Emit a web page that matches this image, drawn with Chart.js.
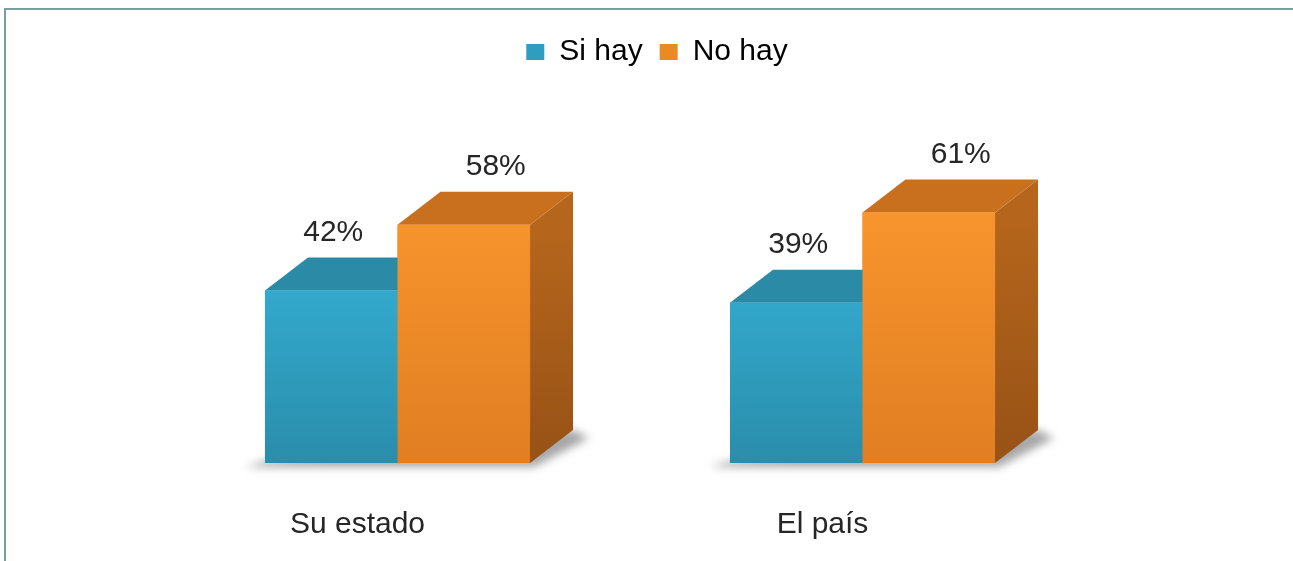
<!DOCTYPE html>
<html lang="es">
<head>
  <meta charset="UTF-8">
  <title>Si hay / No hay</title>
  <script src="https://cdn.jsdelivr.net/npm/chart.js"></script>
  <style>
    body { margin: 0; background: #fff; }
    .container { position: relative; width: 1293px; height: 561px; }
  </style>
</head>
<body>
  <div class="container"><canvas id="chart"></canvas></div>

<script>
  // datos
  const categorias = ['Su estado', 'El país'];
  const siHay = [42, 39];
  const noHay = [58, 61];
  const series = ['Si hay', 'No hay'];

  const fuente = '"Liberation Sans", Arial, sans-serif';
  const profX = 43;   // profundidad 3D
  const profY = -33;

  // colores de cada serie: frente (arriba/abajo), tapa, lado
  const colores = [
    { frente: ['#37b6dc', '#2a8dab'], tapa: '#2b8aa6', lado: ['#237b95', '#1c6478'], caja: '#2e9dbf' },
    { frente: ['#f9952d', '#e07e22'], tapa: '#c9701e', lado: ['#b6661c', '#975216'], caja: '#e98a25' }
  ];

  function gradFrente(chart, idx) {
    const y = chart.scales.y;
    if (!y || !chart.chartArea) return colores[idx].frente[0];
    const g = chart.ctx.createLinearGradient(0, y.getPixelForValue(62), 0, y.getPixelForValue(0));
    g.addColorStop(0, colores[idx].frente[0]);
    g.addColorStop(1, colores[idx].frente[1]);
    return g;
  }

  const marco = {
    id: 'marco',
    beforeDraw(chart) {
      const c = chart.ctx;
      c.save();
      c.strokeStyle = '#7a9f9f';
      c.lineWidth = 2;
      c.beginPath();
      c.moveTo(5, chart.height);
      c.lineTo(5, 9);
      c.lineTo(chart.width, 9);
      c.stroke();
      c.restore();
    }
  };

  // sombra del piso + caras 3D + etiquetas
  const barras3d = {
    id: 'barras3d',
    beforeDatasetsDraw(chart) {
      const c = chart.ctx;
      const m0 = chart.getDatasetMeta(0);
      const m1 = chart.getDatasetMeta(chart.data.datasets.length - 1);
      c.save();
      c.filter = 'blur(4px)';
      c.fillStyle = 'rgba(60,60,60,0.45)';
      for (let i = 0; i < categorias.length; i++) {
        const a = m0.data[i], b = m1.data[i];
        const izq = a.x - a.width / 2, der = b.x + b.width / 2;
        const base = a.base;
        c.beginPath();
        c.moveTo(izq - 20, base + 4);
        c.lineTo(der + 4, base + 4);
        c.lineTo(der + profX + 16, base + profY + 8);
        c.lineTo(der + profX, base + profY);
        c.lineTo(izq, base - 2);
        c.closePath();
        c.fill();
      }
      c.restore();
    },
    afterDatasetsDraw(chart) {
      const c = chart.ctx;
      for (let i = 0; i < categorias.length; i++) {
        for (let d = 0; d < chart.data.datasets.length; d++) {
          const bar = chart.getDatasetMeta(d).data[i];
          const izq = bar.x - bar.width / 2, der = bar.x + bar.width / 2;
          const arriba = bar.y, base = bar.base;
          c.save();
          // lado
          const gl = c.createLinearGradient(0, arriba, 0, base);
          gl.addColorStop(0, colores[d].lado[0]);
          gl.addColorStop(1, colores[d].lado[1]);
          c.fillStyle = gl;
          c.beginPath();
          c.moveTo(der, arriba);
          c.lineTo(der + profX, arriba + profY);
          c.lineTo(der + profX, base + profY);
          c.lineTo(der, base);
          c.closePath();
          c.fill();
          // tapa
          c.fillStyle = colores[d].tapa;
          c.beginPath();
          c.moveTo(izq, arriba);
          c.lineTo(der, arriba);
          c.lineTo(der + profX, arriba + profY);
          c.lineTo(izq + profX, arriba + profY);
          c.closePath();
          c.fill();
          c.restore();
          // frente encima
          bar.draw(c);
        }
      }
      // etiquetas de valor
      c.save();
      c.font = '30px ' + fuente;
      c.fillStyle = '#262626';
      c.textAlign = 'center';
      c.textBaseline = 'middle';
      chart.data.datasets.forEach((ds, d) => {
        chart.getDatasetMeta(d).data.forEach((bar, i) => {
          const desp = d === 0 ? 2 : 32;
          c.fillText(ds.data[i] + '%', bar.x + desp, bar.y + profY - 25);
        });
      });
      c.restore();
    }
  };

  const ctx1 = document.getElementById('chart');

  new Chart(ctx1, {
    type: 'bar',
    data: {
      labels: categorias,
      datasets: [{
        label: series[0],
        data: siHay,
        backgroundColor: (context) => gradFrente(context.chart, 0),
        borderWidth: 0,
        categoryPercentage: 0.57,
        barPercentage: 1
      }, {
        label: series[1],
        data: noHay,
        backgroundColor: (context) => gradFrente(context.chart, 1),
        borderWidth: 0,
        categoryPercentage: 0.57,
        barPercentage: 1
      }]
    },
    options: {
      responsive: true,
      maintainAspectRatio: false,
      animation: false,
      layout: {
        padding: { left: 165, right: 144, top: 20, bottom: 19 }
      },
      scales: {
        x: {
          grid: { display: false, drawTicks: false },
          border: { display: false },
          afterFit: (s) => { s.height = 79; },
          ticks: {
            padding: 44,
            labelOffset: -40,
            color: '#262626',
            font: { family: fuente, size: 30 }
          }
        },
        y: {
          position: 'right',
          min: 0,
          max: 94,
          grid: { display: false },
          border: { display: false },
          ticks: { display: false },
          afterFit: (s) => { s.width = 54; }
        }
      },
      plugins: {
        tooltip: { enabled: false },
        legend: {
          position: 'top',
          labels: {
            color: '#262626',
            font: { family: fuente, size: 30 },
            boxWidth: 18,
            boxHeight: 16,
            padding: 17,
            generateLabels: (chart) => series.map((s, i) => ({
              text: s,
              fillStyle: colores[i].caja,
              strokeStyle: colores[i].caja,
              lineWidth: 0,
              datasetIndex: i,
              hidden: false
            }))
          }
        }
      }
    },
    plugins: [marco, barras3d]
  });
</script>
</body>
</html>
